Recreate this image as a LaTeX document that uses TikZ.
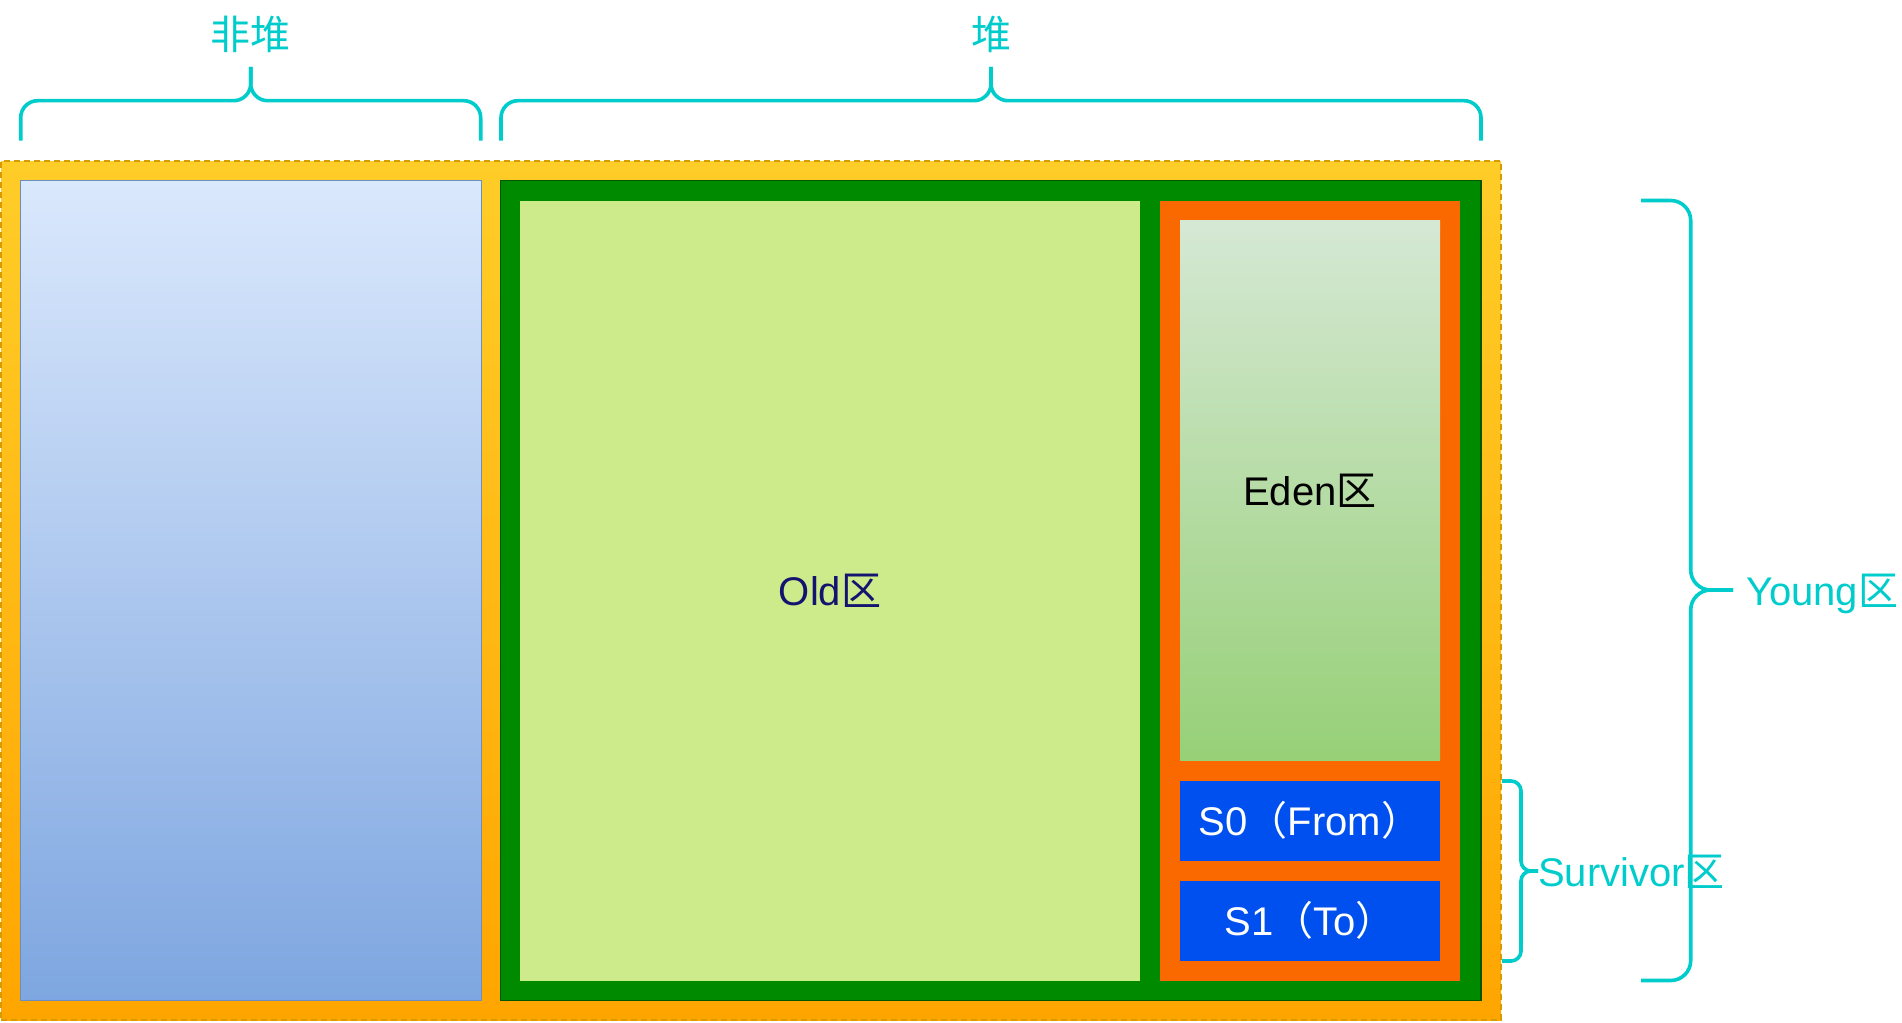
\documentclass[tikz,border=0pt]{standalone}
\usepackage{fontspec}
\setmainfont{Liberation Sans}
\newfontfamily\cjk{Noto Sans CJK SC}
\definecolor{cyanbr}{HTML}{00CCCC}
\definecolor{outtop}{HTML}{FFCD28}
\definecolor{outbot}{HTML}{FFA500}
\definecolor{outbd}{HTML}{D79B00}
\definecolor{bltop}{HTML}{DAE8FC}
\definecolor{blbot}{HTML}{7EA6E0}
\definecolor{blbd}{HTML}{6C8EBF}
\definecolor{gfill}{HTML}{008A00}
\definecolor{gbd}{HTML}{005700}
\definecolor{oldf}{HTML}{CDEB8B}
\definecolor{oldtxt}{HTML}{141470}
\definecolor{orf}{HTML}{FA6800}
\definecolor{edtop}{HTML}{D5E8D4}
\definecolor{edbot}{HTML}{97D077}
\definecolor{sblue}{HTML}{0050EF}
\tikzset{
  region/.style={inner sep=0pt, outer sep=0pt, anchor=north west},
  lbl/.style={inner sep=0pt, font=\fontsize{40}{48}\selectfont},
  brace/.style={draw=cyanbr, line width=3.6pt},
}
\begin{document}
\begin{tikzpicture}[x=1pt,y=-1pt]
\useasboundingbox (0,0) rectangle (1902,1022);
% outer
\node[region, top color=outtop, bottom color=outbot, draw=outbd, line width=1.6pt, dash pattern=on 6pt off 4pt,
  minimum width=1500pt, minimum height=859pt] (outer) at (1,161) {};
% non-heap
\node[region, top color=bltop, bottom color=blbot, draw=blbd, line width=1.6pt,
  minimum width=461pt, minimum height=820pt] (nonheap) at (20.5,180.5) {};
% heap
\node[region, fill=gfill, draw=gbd, line width=1.6pt,
  minimum width=980.5pt, minimum height=820pt] (heap) at (500.5,180.5) {};
\node[region, fill=oldf, minimum width=620pt, minimum height=780pt] (old) at (520,200.5) {};
\node[lbl, text=oldtxt] (oldt) at (old.center) {Old{\cjk 区}};
\node[region, fill=orf, minimum width=300pt, minimum height=780pt] (young) at (1160,200.5) {};
\node[region, top color=edtop, bottom color=edbot, minimum width=260pt, minimum height=540pt] (eden) at (1180,220.5) {};
\node[lbl, text=black] (edent) at (eden.center) {Eden{\cjk 区}};
\node[region, fill=sblue, minimum width=260pt, minimum height=80pt] (s0) at (1180,780.5) {};
\node[lbl, text=white] (s0t) at (s0.center) {S0{\cjk （}From{\cjk ）}};
\node[region, fill=sblue, minimum width=260pt, minimum height=80pt] (s1) at (1180,880.5) {};
\node[lbl, text=white] (s1t) at (s1.center) {S1{\cjk （}To{\cjk ）}};
% braces
\coordinate (nhL) at (20.7,140.7);
\coordinate (nhR) at (480.7,140.7);
\coordinate (nhT) at (250.7,67);
\draw[brace, rounded corners=17pt] (nhL) -- (20.7,100.7) -- (250.7,100.7) -- (nhT);
\draw[brace, rounded corners=17pt] (nhR) -- (480.7,100.7) -- (250.7,100.7) -- (nhT);
\node[lbl, text=cyanbr, font=\cjk\fontsize{40}{48}\selectfont] (nht) at (250.7,34) {非堆};
\coordinate (hL) at (501,140.7);
\coordinate (hR) at (1481,140.7);
\coordinate (hT) at (991,67);
\draw[brace, rounded corners=17pt] (hL) -- (501,100.7) -- (991,100.7) -- (hT);
\draw[brace, rounded corners=17pt] (hR) -- (1481,100.7) -- (991,100.7) -- (hT);
\node[lbl, text=cyanbr, font=\cjk\fontsize{40}{48}\selectfont] (ht) at (991,34) {堆};
\coordinate (yT) at (1641,200.5);
\coordinate (yB) at (1641,980.5);
\coordinate (yM) at (1733,590);
\draw[brace, rounded corners=20pt] (yT) -- (1690.7,200.5) -- (1690.7,590) -- (yM);
\draw[brace, rounded corners=20pt] (yB) -- (1690.7,980.5) -- (1690.7,590) -- (yM);
\node[lbl, text=cyanbr, anchor=west] (yt) at (1746,594) {Young{\cjk 区}};
\coordinate (sT) at (1502,781);
\coordinate (sB) at (1502,961);
\coordinate (sM) at (1538,871);
\draw[brace, rounded corners=10pt] (sT) -- (1521,781) -- (1521,871) -- (sM);
\draw[brace, rounded corners=10pt] (sB) -- (1521,961) -- (1521,871) -- (sM);
\node[lbl, text=cyanbr, anchor=west] (st) at (1538,872) {Survivor{\cjk 区}};
\end{tikzpicture}
\end{document}
